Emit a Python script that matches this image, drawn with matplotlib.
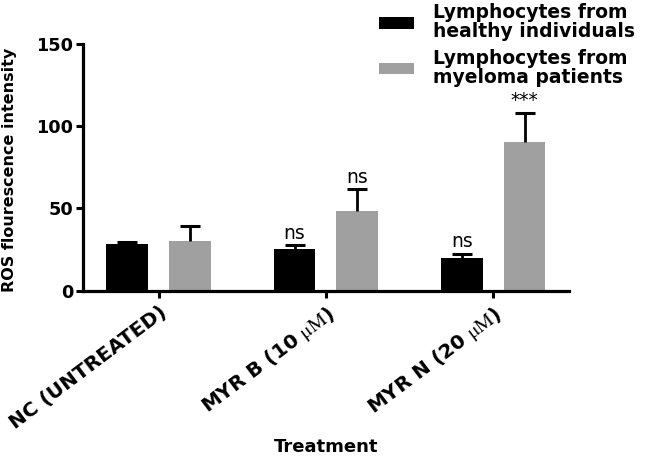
import matplotlib
matplotlib.use("Agg")
import matplotlib.pyplot as plt
import numpy as np

plt.rcParams['font.family'] = ['DejaVu Sans']
plt.rcParams['mathtext.fontset'] = 'stix'

# data
treatments = ['NC (UNTREATED)', r'MYR B (10 $\mathrm{\mu M}$)', r'MYR N (20 $\mathrm{\mu M}$)']
healthy = [28.3, 25.5, 20.0]
healthy_err = [1.3, 2.0, 2.2]
myeloma = [30.2, 48.2, 90.6]
myeloma_err = [9.2, 13.3, 17.3]
healthy_sig = ['', 'ns', 'ns']
myeloma_sig = ['', 'ns', '***']
series_names = ['Lymphocytes from\nhealthy individuals', 'Lymphocytes from\nmyeloma patients']
y_ticks = [0, 50, 100, 150]

BLACK = '#000000'
GREY = '#a0a0a0'

fig = plt.figure(figsize=(6.45, 4.59), dpi=100)
ax = fig.add_axes([0.1287, 0.3671, 0.7535, 0.537])

x = np.arange(len(treatments))
off = 0.188
w = 0.25
err_kw = dict(ecolor='black', elinewidth=2.0, capsize=7.5, capthick=2.2)

b1 = ax.bar(x - off, healthy, w, color=BLACK, label=series_names[0],
            yerr=[np.zeros(len(healthy)), healthy_err], error_kw=err_kw)
b2 = ax.bar(x + off, myeloma, w, color=GREY, label=series_names[1],
            yerr=[np.zeros(len(myeloma)), myeloma_err], error_kw=err_kw)

# only the upper half of each error bar, like GraphPad
for b in (b1, b2):
    caps = b.errorbar.lines[1]
    caps[0].set_visible(False)

for xs, vals, errs, sigs in [(x - off, healthy, healthy_err, healthy_sig),
                             (x + off, myeloma, myeloma_err, myeloma_sig)]:
    for xi, v, e, s in zip(xs, vals, errs, sigs):
        if s:
            ax.annotate(s, (xi, v + e), xytext=(0, 2), textcoords='offset points',
                        ha='center', va='bottom', fontsize=13.5)

ax.set_xlim(-0.453, 2.454)
ax.set_ylim(0, 150)
ax.set_yticks(y_ticks)
ax.set_yticklabels([str(t) for t in y_ticks], fontsize=12.7, fontweight='bold')
ax.set_xticks(x)
ax.set_xticklabels(treatments, rotation=37, ha='right', va='top',
                   rotation_mode='anchor', fontsize=14.4, fontweight='bold')

for side in ['top', 'right']:
    ax.spines[side].set_visible(False)
for side in ['left', 'bottom']:
    ax.spines[side].set_linewidth(2.3)
ax.tick_params(axis='both', width=2.2, length=5, pad=2, color='black')
ax.tick_params(axis='x', pad=4)

ax.set_ylabel('ROS flourescence intensity', fontsize=11.5, fontweight='bold')
ax.yaxis.set_label_coords(-0.136, 0.489)
ax.set_xlabel('Treatment', fontsize=13, fontweight='bold')
ax.xaxis.set_label_coords(0.5, -0.6)

leg = fig.legend(handles=[b1, b2], loc='upper left', bbox_to_anchor=(379 / 645, 0.993),
                 frameon=False, borderpad=0, borderaxespad=0,
                 handlelength=1.85, handleheight=0.55, handletextpad=1.05,
                 labelspacing=0.4, prop=dict(size=13.5, weight='bold'))
for t in leg.get_texts():
    t.set_linespacing(1.0)

fig.savefig('out.png', dpi=100)
